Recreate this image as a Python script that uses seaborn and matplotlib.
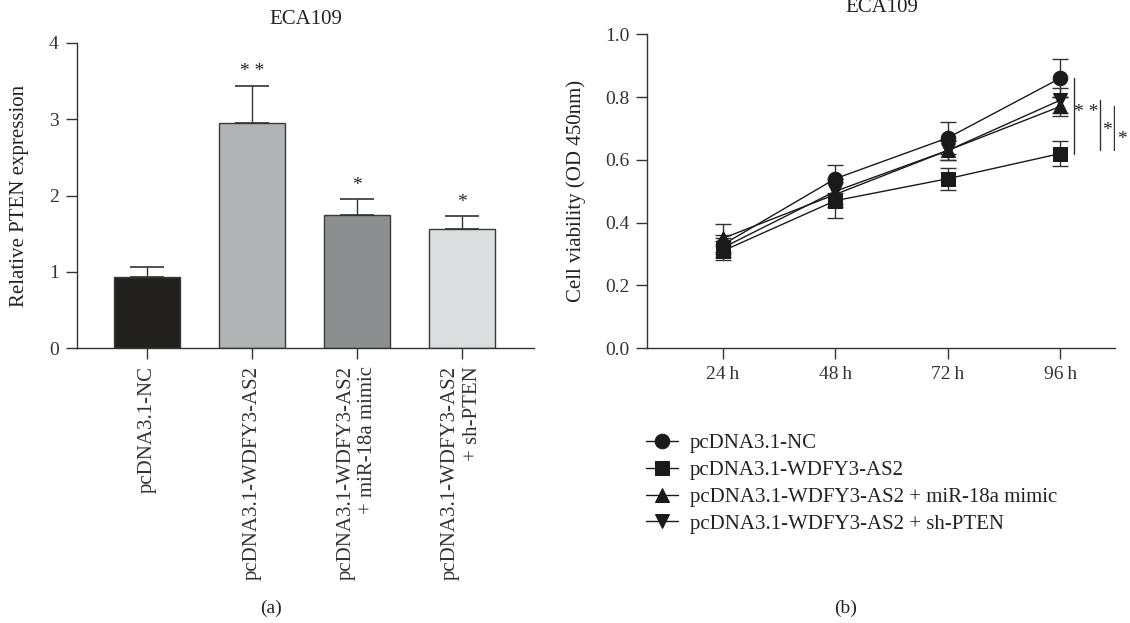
import matplotlib
matplotlib.use('Agg')
import matplotlib.pyplot as plt
import numpy as np
import pandas as pd
import seaborn as sns

# panel (a) data
groups = ['pcDNA3.1-NC', 'pcDNA3.1-WDFY3-AS2',
          'pcDNA3.1-WDFY3-AS2\n+ miR-18a mimic', 'pcDNA3.1-WDFY3-AS2\n+ sh-PTEN']
pten_mean = [0.94, 2.95, 1.74, 1.56]
pten_sd = [0.13, 0.49, 0.21, 0.17]
pten_sig = ['', '* *', '*', '*']
bar_colors = ['#231f20', '#b1b3b6', '#8c8e91', '#dcdddf']

# panel (b) data
times = ['24\u2009h', '48\u2009h', '72\u2009h', '96\u2009h']
legend_names = ['pcDNA3.1-NC', 'pcDNA3.1-WDFY3-AS2',
                'pcDNA3.1-WDFY3-AS2 + miR-18a mimic', 'pcDNA3.1-WDFY3-AS2 + sh-PTEN']
nc_vals = [0.33, 0.54, 0.67, 0.86]
as2_vals = [0.31, 0.47, 0.54, 0.62]
mimic_vals = [0.35, 0.49, 0.63, 0.77]
shpten_vals = [0.32, 0.50, 0.63, 0.79]
nc_err = [0.03, 0.045, 0.05, 0.06]
as2_err = [0.03, 0.055, 0.035, 0.04]
mimic_err = [0.045, 0.04, 0.03, 0.03]
shpten_err = [0.03, 0.04, 0.03, 0.04]
markers = ['o', 's', '^', 'v']

sns.set_style('ticks')
plt.rcParams['font.family'] = ['Liberation Serif', 'DejaVu Serif']
plt.rcParams['font.size'] = 11
plt.rcParams['axes.linewidth'] = 1.0
plt.rcParams['axes.edgecolor'] = '#333333'
plt.rcParams['xtick.color'] = '#333333'
plt.rcParams['ytick.color'] = '#333333'
plt.rcParams['text.color'] = '#222222'
plt.rcParams['axes.labelcolor'] = '#222222'

fig = plt.figure(figsize=(11.3, 6.23), dpi=100)
ax1 = fig.add_axes([0.068, 0.441, 0.405, 0.49])
ax2 = fig.add_axes([0.573, 0.441, 0.414, 0.504])

# ---- (a) bar chart
bar_df = pd.DataFrame({'group': groups, 'value': pten_mean})
sns.barplot(data=bar_df, x='group', y='value', hue='group', palette=bar_colors,
            legend=False, width=0.63, edgecolor='#3a3a3a', linewidth=1.0, ax=ax1)
xs = np.arange(len(groups))
ax1.errorbar(xs, pten_mean, yerr=[np.zeros(len(groups)), pten_sd], fmt='none',
             ecolor='#333333', elinewidth=1.0, capsize=12, capthick=1.2)
for x, m, s, t in zip(xs, pten_mean, pten_sd, pten_sig):
    ax1.text(x, m + s + 0.07, t, ha='center', va='bottom', fontsize=14)
ax1.set_xlim(-0.667, 3.695)
ax1.set_ylim(0, 4)
ax1.set_yticks([0, 1, 2, 3, 4])
ax1.set_xticks(xs)
ax1.set_xticklabels(groups, rotation=90, ha='center', va='top', multialignment='right',
                    fontsize=15)
ax1.set_xlabel('')
ax1.set_ylabel('Relative PTEN expression', fontsize=15, labelpad=14)
ax1.set_title('ECA109', fontsize=15, pad=14)
ax1.tick_params(axis='both', direction='out', length=8, width=1.0, labelsize=14, pad=5)
ax1.tick_params(axis='x', labelsize=15)
sns.despine(ax=ax1)

# ---- (b) line chart
series = [nc_vals, as2_vals, mimic_vals, shpten_vals]
errs = [nc_err, as2_err, mimic_err, shpten_err]
rows = []
for name, vals in zip(legend_names, series):
    for i, v in enumerate(vals):
        rows.append({'time': i, 'value': v, 'group': name})
line_df = pd.DataFrame(rows)
sns.lineplot(data=line_df, x='time', y='value', hue='group', style='group',
             markers=markers, dashes=False, palette=['#1a1a1a'] * 4,
             markersize=10.5, linewidth=1.0, markeredgecolor='#1a1a1a', ax=ax2)
for vals, e in zip(series, errs):
    ax2.errorbar(range(len(times)), vals, yerr=e, fmt='none', ecolor='#333333',
                 elinewidth=1.0, capsize=6, capthick=1.0, zorder=1)

# significance brackets at 96h
ax2.plot([3.12, 3.12], [nc_vals[3], as2_vals[3]], color='#333333', lw=1.0)
ax2.text(3.235, (nc_vals[3] + as2_vals[3]) / 2 + 0.01, '* *', ha='center', va='center',
         fontsize=14)
ax2.plot([3.35, 3.35], [shpten_vals[3], as2_vals[3] + 0.01], color='#333333', lw=1.0)
ax2.text(3.415, (shpten_vals[3] + as2_vals[3]) / 2 - 0.01, '*', ha='center', va='center',
         fontsize=14)
ax2.plot([3.48, 3.48], [mimic_vals[3], as2_vals[3] + 0.01], color='#333333', lw=1.0)
ax2.text(3.55, (mimic_vals[3] + as2_vals[3]) / 2 - 0.03, '*', ha='center', va='center',
         fontsize=14)

ax2.set_xlim(-0.67, 3.49)
ax2.set_ylim(0, 1.0)
ax2.set_yticks([0.0, 0.2, 0.4, 0.6, 0.8, 1.0])
ax2.set_yticklabels(['0.0', '0.2', '0.4', '0.6', '0.8', '1.0'])
ax2.set_xticks(range(len(times)))
ax2.set_xticklabels(times)
ax2.set_xlabel('')
ax2.set_ylabel('Cell viability (OD 450nm)', fontsize=15, labelpad=14)
ax2.set_title('ECA109', fontsize=15, pad=16)
ax2.tick_params(axis='both', direction='out', length=8, width=1.0, labelsize=14, pad=5)
sns.despine(ax=ax2)
ax2.legend(loc='upper left', bbox_to_anchor=(-0.02, -0.245), frameon=False,
           fontsize=15, handlelength=1.5, labelspacing=0.35, handletextpad=0.6,
           borderaxespad=0)

fig.text(0.24, 0.024, '(a)', ha='center', va='center', fontsize=14)
fig.text(0.748, 0.024, '(b)', ha='center', va='center', fontsize=14)

fig.savefig('out.png', dpi=100, facecolor='white')
